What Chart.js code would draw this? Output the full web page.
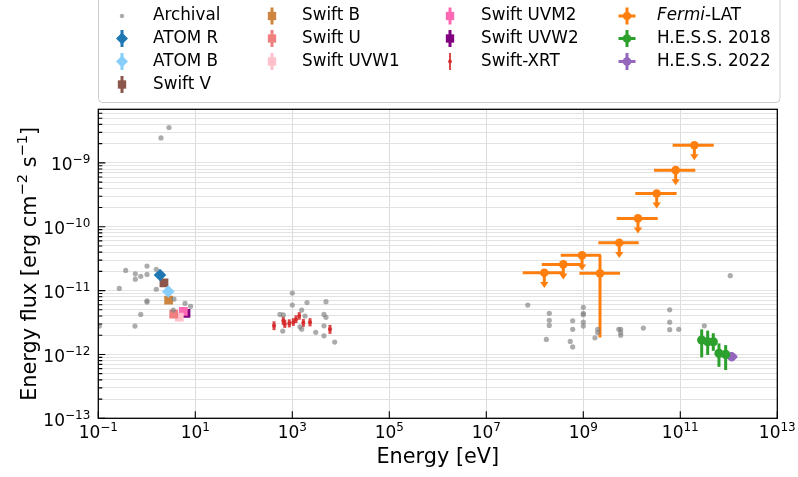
<!DOCTYPE html>
<html>
<head>
<meta charset="utf-8">
<script src="https://cdn.jsdelivr.net/npm/chart.js@4.4.1/dist/chart.umd.min.js"></script>
<style>
  html, body { margin: 0; padding: 0; background: #fff; }
  canvas { display: block; }
</style>
</head>
<body>
<canvas id="sed" width="798" height="477"></canvas>
<script>
// ---------------------------
// Data (energy in eV, flux in erg cm^-2 s^-1)
// ---------------------------
const archivalE = [2.87, 1.96, 0.367, 0.58, 0.58, 0.75, 1.01, 1.01, 1.57, 0.271, 1.57, 1.01, 1.01, 0.75, 0.57, 0.105, 3.64, 6.14, 8.0, 3.52,
  1000, 1000, 2010, 4950, 1560, 557, 653, 4500, 4950, 1830, 1440, 1560, 4500, 634, 3040, 4500, 7480,
  7.15e7, 1.99e8, 1.99e8, 1.99e8, 1.73e8, 6.04e8, 6.04e8, 5.39e8, 6.04e8, 1e9, 1e9, 1e9, 1e9, 1e9, 1.98e9, 1.98e9, 1.74e9,
  5.4e9, 5.9e9, 5.9e9, 5.9e9, 1.73e10, 6.04e10, 6.04e10, 6.04e10, 9.3e10, 3.13e11, 1.07e12];
const archivalF = [3.58e-9, 2.46e-9, 2.07e-11, 1.83e-11, 1.51e-11, 1.67e-11, 2.42e-11, 1.79e-11, 2.15e-11, 1.08e-11, 1.05e-11, 6.6e-12, 6.9e-12, 4.24e-12, 2.78e-12, 2.78e-12, 7.36e-12, 6.3e-12, 5.66e-12, 4.95e-12,
  9.14e-12, 5.93e-12, 6.5e-12, 6.7e-12, 4.95e-12, 4.24e-12, 4.15e-12, 4.24e-12, 3.81e-12, 4.0e-12, 2.71e-12, 2.49e-12, 2.81e-12, 2.32e-12, 2.22e-12, 1.96e-12, 1.56e-12,
  5.93e-12, 4.4e-12, 3.42e-12, 2.85e-12, 1.72e-12, 3.37e-12, 2.47e-12, 1.6e-12, 1.31e-12, 5.46e-12, 4.4e-12, 4.19e-12, 3.2e-12, 2.78e-12, 2.47e-12, 2.2e-12, 1.82e-12,
  2.47e-12, 2.47e-12, 2.2e-12, 1.99e-12, 2.59e-12, 5.0e-12, 3.2e-12, 2.44e-12, 2.47e-12, 2.81e-12, 1.71e-11];

const atomRE = [1.87];   const atomRF = [1.75e-11];
const atomBE = [2.77];   const atomBF = [9.7e-12];
const swiftVE = [2.26];  const swiftVF = [1.32e-11];
const swiftBE = [2.82];  const swiftBF = [7.1e-12];
const swiftUE = [3.59];  const swiftUF = [4.29e-12];
const swiftW1E = [4.68]; const swiftW1F = [3.85e-12];
const swiftM2E = [5.66]; const swiftM2F = [4.72e-12];
const swiftW2E = [6.43]; const swiftW2F = [4.40e-12];

const xrtE   = [420, 653, 700, 867, 1050, 1190, 1390, 1690, 2320, 5980];
const xrtF   = [2.81e-12, 3.37e-12, 3.0e-12, 3.07e-12, 3.2e-12, 3.54e-12, 3.99e-12, 3.13e-12, 3.2e-12, 2.47e-12];
const xrtFlo = [2.4e-12, 2.9e-12, 2.6e-12, 2.65e-12, 2.8e-12, 3.1e-12, 3.5e-12, 2.7e-12, 2.75e-12, 2.1e-12];
const xrtFhi = [3.3e-12, 3.9e-12, 3.5e-12, 3.55e-12, 3.7e-12, 4.1e-12, 4.6e-12, 3.6e-12, 3.7e-12, 2.9e-12];

const fermiE   = [1.57e8, 3.87e8, 9.4e8, 2.21e9, 5.52e9, 1.34e10, 3.26e10, 8.03e10, 1.95e11];
const fermiElo = [5.64e7, 1.39e8, 3.42e8, 8.3e8, 2.04e9, 4.89e9, 1.18e10, 2.87e10, 6.96e10];
const fermiEhi = [3.87e8, 9.7e8, 2.3e9, 5.7e9, 1.39e10, 3.42e10, 8.4e10, 2.04e11, 4.89e11];
const fermiF   = [1.9e-11, 2.57e-11, 3.56e-11, 1.86e-11, 5.6e-11, 1.35e-10, 3.32e-10, 7.69e-10, 1.89e-9];
const fermiFlo = [1.1e-11, 1.49e-11, 2.07e-11, 1.85e-12, 3.25e-11, 7.8e-11, 1.93e-10, 4.46e-10, 1.1e-9];
const fermiFhi = [1.9e-11, 2.57e-11, 3.56e-11, 3.56e-11, 5.6e-11, 1.35e-10, 3.32e-10, 7.69e-10, 1.89e-9];
const fermiUL  = [true, true, true, false, true, true, true, true, true];

const hess18E   = [2.76e11, 3.67e11, 4.79e11, 6.27e11, 8.62e11];
const hess18F   = [1.68e-12, 1.58e-12, 1.58e-12, 1.04e-12, 1.0e-12];
const hess18Flo = [9.0e-13, 9.8e-13, 1.14e-12, 6.4e-13, 5.7e-13];
const hess18Fhi = [2.47e-12, 2.36e-12, 2.15e-12, 1.49e-12, 1.4e-12];

const hess22E   = [1.15e12];
const hess22Elo = [9.04e11];
const hess22Ehi = [1.5e12];
const hess22F   = [9.2e-13];
const hess22Flo = [7.8e-13];
const hess22Fhi = [1.09e-12];

// tick labels: base "10" and exponent
const xTickValues = [1e-1, 1e1, 1e3, 1e5, 1e7, 1e9, 1e11, 1e13];
const xTickExps   = ['−1', '1', '3', '5', '7', '9', '11', '13'];
const yMajorValues = [1e-13, 1e-12, 1e-11, 1e-10, 1e-9];
const yTickExps    = ['−13', '−12', '−11', '−10', '−9'];

const X_MIN = 1e-1, X_MAX = 1e13;
const Y_MIN = 1e-13, Y_MAX = 6.9e-9;

// ---------------------------
// Helpers
// ---------------------------
const pts = (xs, ys) => xs.map((v, i) => ({ x: v, y: ys[i] }));

const yTickValues = [];
yMajorValues.forEach(m => {
  for (let k = 1; k <= 9; k++) {
    const v = m * k;
    if (v <= Y_MAX) yTickValues.push(v);
  }
});
const isYMajor = v => yMajorValues.some(m => Math.abs(m - v) / m < 1e-6);

const BASE = 17, SUP = 12, RAISE = 7;
function mathParts(ctx, parts, base) {
  const b = base || BASE;
  const s = b * SUP / BASE;
  let w = 0;
  parts.forEach(p => {
    ctx.font = (p.sup ? s : b) + 'px "DejaVu Sans"';
    p.w = ctx.measureText(p.t).width;
    w += p.w;
  });
  return w;
}
function drawMath(ctx, parts, x, baseline, base) {
  const b = base || BASE;
  const s = b * SUP / BASE;
  const r = b * RAISE / BASE;
  ctx.textAlign = 'left';
  ctx.textBaseline = 'alphabetic';
  parts.forEach(p => {
    ctx.font = (p.sup ? s : b) + 'px "DejaVu Sans"';
    ctx.fillText(p.t, x, p.sup ? baseline - r : baseline);
    x += p.w;
  });
}

function markerDataset(label, xs, ys, color, style, radius, extra) {
  return Object.assign({
    label,
    data: pts(xs, ys),
    backgroundColor: color,
    borderColor: color,
    borderWidth: 0,
    pointStyle: style,
    pointRadius: radius,
    pointHoverRadius: radius,
  }, extra || {});
}

const datasets = [
  markerDataset('Archival', archivalE, archivalF, 'rgba(128,128,128,0.65)', 'circle', 2.6, { legendKind: 'dot' }),
  markerDataset('ATOM R', atomRE, atomRF, '#1f77b4', 'rectRot', 6.3, { legendKind: 'vbar' }),
  markerDataset('ATOM B', atomBE, atomBF, '#87cefa', 'rectRot', 6.3, { legendKind: 'vbar' }),
  markerDataset('Swift V', swiftVE, swiftVF, '#8c564b', 'rect', 6.2, { legendKind: 'vbar' }),
  markerDataset('Swift B', swiftBE, swiftBF, '#cd853f', 'rect', 6.2, { legendKind: 'vbar' }),
  markerDataset('Swift U', swiftUE, swiftUF, '#f08080', 'rect', 6.2, { legendKind: 'vbar' }),
  markerDataset('Swift UVW1', swiftW1E, swiftW1F, '#ffc0cb', 'rect', 6.2, { legendKind: 'vbar' }),
  markerDataset('Swift UVM2', swiftM2E, swiftM2F, '#ff69b4', 'rect', 6.2, { legendKind: 'vbar' }),
  markerDataset('Swift UVW2', swiftW2E, swiftW2F, '#800080', 'rect', 6.2, { legendKind: 'vbar' }),
  markerDataset('Swift-XRT', xrtE, xrtF, 'rgba(214,39,40,0.85)', 'circle', 2, {
    legendKind: 'thin', errWidth: 3, err: { ylo: xrtFlo, yhi: xrtFhi }
  }),
  markerDataset('Fermi-LAT', fermiE, fermiF, '#ff7f0e', 'circle', 4.3, {
    legendKind: 'cross', errWidth: 3,
    err: { xlo: fermiElo, xhi: fermiEhi, ylo: fermiFlo, yhi: fermiFhi, ul: fermiUL }
  }),
  markerDataset('H.E.S.S. 2018', hess18E, hess18F, '#2ca02c', 'circle', 4.6, {
    legendKind: 'cross', errWidth: 3, err: { ylo: hess18Flo, yhi: hess18Fhi }
  }),
  markerDataset('H.E.S.S. 2022', hess22E, hess22F, '#9467bd', 'circle', 4.6, {
    legendKind: 'cross', errWidth: 3, err: { xlo: hess22Elo, xhi: hess22Ehi, ylo: hess22Flo, yhi: hess22Fhi }
  }),
];

// ---------------------------
// Plugins
// ---------------------------
const errorBars = {
  id: 'errorBars',
  beforeDatasetsDraw(chart) {
    const { ctx, scales: { x, y } } = chart;
    chart.data.datasets.forEach(ds => {
      if (!ds.err) return;
      const e = ds.err;
      ctx.save();
      ctx.strokeStyle = ds.borderColor;
      ctx.fillStyle = ds.borderColor;
      ctx.lineWidth = ds.errWidth;
      ds.data.forEach((p, k) => {
        const px = x.getPixelForValue(p.x);
        const py = y.getPixelForValue(p.y);
        ctx.beginPath();
        if (e.xlo) {
          ctx.moveTo(x.getPixelForValue(e.xlo[k]), py);
          ctx.lineTo(x.getPixelForValue(e.xhi[k]), py);
        }
        const yLo = y.getPixelForValue(e.ylo[k]);
        const yHi = y.getPixelForValue(e.yhi[k]);
        const ul = e.ul && e.ul[k];
        ctx.moveTo(px, yHi);
        ctx.lineTo(px, ul ? yLo - 4 : yLo);
        ctx.stroke();
        if (ul) {
          ctx.beginPath();
          ctx.moveTo(px - 4.2, yLo - 6);
          ctx.lineTo(px + 4.2, yLo - 6);
          ctx.lineTo(px, yLo);
          ctx.closePath();
          ctx.fill();
        }
      });
      ctx.restore();
    });
  }
};

const frameAndTitles = {
  id: 'frameAndTitles',
  afterDraw(chart) {
    const { ctx, chartArea: a, scales: { x, y } } = chart;
    ctx.save();
    ctx.strokeStyle = '#000';
    // inward ticks
    ctx.lineWidth = 1.1;
    ctx.beginPath();
    y.ticks.forEach(t => {
      const py = y.getPixelForValue(t.value);
      const len = isYMajor(t.value) ? 7 : 4;
      ctx.moveTo(a.left, py);
      ctx.lineTo(a.left + len, py);
    });
    x.ticks.forEach(t => {
      const px = x.getPixelForValue(t.value);
      ctx.moveTo(px, a.bottom);
      ctx.lineTo(px, a.bottom - 7);
    });
    ctx.stroke();
    // frame
    ctx.lineWidth = 1.3;
    ctx.strokeRect(a.left, a.top, a.right - a.left, a.bottom - a.top);

    // tick labels 10^n
    ctx.fillStyle = '#000';
    xTickValues.forEach((v, i) => {
      const parts = [{ t: '10' }, { t: xTickExps[i], sup: true }];
      const w = mathParts(ctx, parts);
      drawMath(ctx, parts, x.getPixelForValue(v) - w / 2, a.bottom + 20);
    });
    yMajorValues.forEach((v, i) => {
      const parts = [{ t: '10' }, { t: yTickExps[i], sup: true }];
      const w = mathParts(ctx, parts);
      drawMath(ctx, parts, a.left - 8 - w, y.getPixelForValue(v) + 7.5);
    });

    // axis titles
    ctx.font = '20.8px "DejaVu Sans"';
    ctx.textAlign = 'center';
    ctx.textBaseline = 'middle';
    ctx.fillText('Energy [eV]', (a.left + a.right) / 2, 458);

    const tp = [{ t: 'Energy flux [erg cm' }, { t: '−2', sup: true }, { t: ' s' }, { t: '−1', sup: true }, { t: ']' }];
    const tw = mathParts(ctx, tp, 20.8);
    ctx.translate(28, (a.top + a.bottom) / 2);
    ctx.rotate(-Math.PI / 2);
    drawMath(ctx, tp, -tw / 2, 7.5, 20.8);
    ctx.restore();
  }
};

// legend drawn with errorbar-style handles
const legendCols = [[0, 1, 2, 3], [4, 5, 6], [7, 8, 9], [10, 11, 12]];
const legendMarkX = [122, 272, 450, 627];
const legendTextX = [153, 302, 481, 657];
const legendRowY = [16, 38.5, 61.5, 84.5];

const errLegend = {
  id: 'errLegend',
  afterDraw(chart) {
    const { ctx } = chart;
    const dss = chart.data.datasets;
    ctx.save();
    const bx = 98.5, by = -6, bw = 681.5, bh = 108.5, r = 4;
    ctx.beginPath();
    ctx.moveTo(bx + r, by);
    ctx.lineTo(bx + bw - r, by);
    ctx.arcTo(bx + bw, by, bx + bw, by + r, r);
    ctx.lineTo(bx + bw, by + bh - r);
    ctx.arcTo(bx + bw, by + bh, bx + bw - r, by + bh, r);
    ctx.lineTo(bx + r, by + bh);
    ctx.arcTo(bx, by + bh, bx, by + bh - r, r);
    ctx.lineTo(bx, by + r);
    ctx.arcTo(bx, by, bx + r, by, r);
    ctx.closePath();
    ctx.fillStyle = 'rgba(255,255,255,0.8)';
    ctx.fill();
    ctx.strokeStyle = '#cccccc';
    ctx.lineWidth = 1;
    ctx.stroke();

    legendCols.forEach((col, c) => {
      col.forEach((di, row) => {
        const ds = dss[di];
        const mx = legendMarkX[c], my = legendRowY[row];
        ctx.strokeStyle = ds.borderColor;
        ctx.fillStyle = ds.backgroundColor;
        if (ds.legendKind !== 'dot') {
          ctx.lineWidth = ds.legendKind === 'thin' ? 2 : 3;
          ctx.beginPath();
          ctx.moveTo(mx, my - 8.5);
          ctx.lineTo(mx, my + 8.5);
          if (ds.legendKind === 'cross') {
            ctx.moveTo(mx - 8.5, my);
            ctx.lineTo(mx + 8.5, my);
          }
          ctx.stroke();
        }
        Chart.helpers.drawPoint(ctx, {
          pointStyle: ds.pointStyle,
          radius: ds.legendKind === 'dot' ? 2.3 : (ds.legendKind === 'thin' ? 2 : ds.pointRadius * 0.95),
          rotation: 0,
          borderWidth: 0
        }, mx, my);

        ctx.fillStyle = '#000';
        ctx.textAlign = 'left';
        ctx.textBaseline = 'middle';
        const tx = legendTextX[c];
        if (ds.label.startsWith('Fermi')) {
          ctx.font = 'italic 16.8px "DejaVu Sans"';
          ctx.fillText('Fermi', tx, my);
          const w = ctx.measureText('Fermi').width;
          ctx.font = '16.8px "DejaVu Sans"';
          ctx.fillText(ds.label.slice(5), tx + w, my);
        } else {
          ctx.font = '16.8px "DejaVu Sans"';
          ctx.fillText(ds.label, tx, my);
        }
      });
    });
    ctx.restore();
  }
};

// ---------------------------
// Chart
// ---------------------------
Chart.defaults.font.family = '"DejaVu Sans"';
Chart.defaults.color = '#000';

new Chart(document.getElementById('sed').getContext('2d'), {
  type: 'scatter',
  data: { datasets },
  options: {
    responsive: false,
    animation: false,
    events: [],
    layout: { padding: { top: 109.3, right: 20.7, left: 0, bottom: 0 } },
    plugins: { legend: { display: false }, tooltip: { enabled: false } },
    scales: {
      x: {
        type: 'logarithmic',
        min: X_MIN,
        max: X_MAX,
        afterBuildTicks: s => { s.ticks = xTickValues.map(v => ({ value: v })); },
        afterFit: s => { s.height = 477 - 418.3; },
        grid: { color: '#dcdcdc', lineWidth: 1, drawTicks: false },
        border: { display: false },
        ticks: { display: false, autoSkip: false }
      },
      y: {
        type: 'logarithmic',
        min: Y_MIN,
        max: Y_MAX,
        afterBuildTicks: s => { s.ticks = yTickValues.map(v => ({ value: v })); },
        afterFit: s => { s.width = 98.3; },
        grid: { color: '#e2e2e2', lineWidth: 1, drawTicks: false },
        border: { display: false },
        ticks: { display: false, autoSkip: false }
      }
    }
  },
  plugins: [errorBars, frameAndTitles, errLegend]
});
</script>
</body>
</html>
